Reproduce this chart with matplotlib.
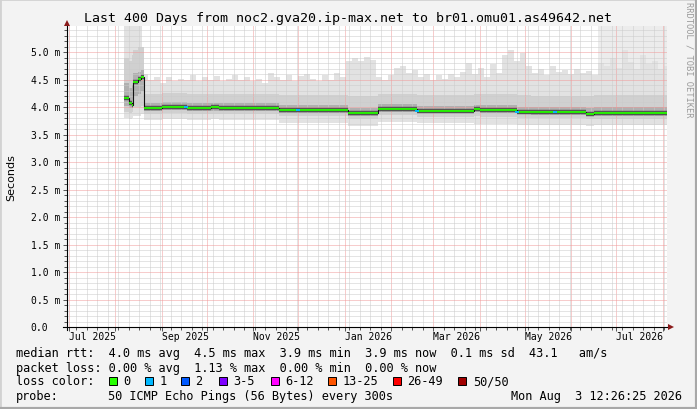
import numpy as np
import pandas as pd
import matplotlib
matplotlib.use("Agg")
import matplotlib.pyplot as plt
import matplotlib.dates as mdates
from matplotlib.patches import Rectangle
from matplotlib.lines import Line2D
from matplotlib.ticker import MultipleLocator
from matplotlib.transforms import blended_transform_factory

# ---------------- data ----------------
t_end = pd.Timestamp('2026-08-03 12:26:25')
t_start = t_end - pd.Timedelta(days=400)

# median RTT steps (ms) and smoke quantiles per step
seg_dates = ['2025-08-07', '2025-08-10', '2025-08-12', '2025-08-13', '2025-08-16',
             '2025-08-18', '2025-08-20', '2025-09-01', '2025-09-18', '2025-10-04',
             '2025-10-09', '2025-10-18', '2025-11-18', '2026-01-03', '2026-01-23',
             '2026-02-18', '2026-03-28', '2026-04-01', '2026-04-26', '2026-05-05',
             '2026-06-11', '2026-06-16']
med_vals = [4.16, 4.07, 4.05, 4.46, 4.52, 4.55, 3.98, 4.01, 3.98, 4.00,
            3.98, 3.99, 3.95, 3.89, 3.97, 3.94, 3.96, 3.95, 3.92, 3.91,
            3.88, 3.90]
lo_vals = [3.80, 3.78, 3.80, 3.84, 3.85, 3.88, 3.77, 3.78, 3.77, 3.78,
           3.77, 3.77, 3.72, 3.66, 3.74, 3.71, 3.70, 3.70, 3.68, 3.67,
           3.66, 3.67]
p10_vals = [3.92, 3.90, 3.92, 4.00, 4.00, 4.02, 3.87, 3.89, 3.87, 3.88,
            3.87, 3.88, 3.84, 3.78, 3.86, 3.83, 3.84, 3.83, 3.81, 3.80,
            3.78, 3.79]
p25_vals = [4.03, 3.98, 3.99, 4.20, 4.25, 4.30, 3.93, 3.95, 3.93, 3.94,
            3.93, 3.94, 3.90, 3.84, 3.92, 3.89, 3.91, 3.90, 3.87, 3.86,
            3.84, 3.85]
p75_vals = [4.45, 4.35, 4.40, 4.62, 4.65, 4.68, 4.07, 4.09, 4.07, 4.08,
            4.07, 4.08, 4.04, 3.99, 4.06, 4.03, 4.05, 4.04, 4.01, 4.00,
            3.98, 4.00]
p90_vals = [4.90, 4.85, 4.95, 5.05, 5.10, 5.10, 4.24, 4.26, 4.24, 4.25,
            4.24, 4.25, 4.22, 4.20, 4.24, 4.22, 4.24, 4.24, 4.22, 4.21,
            4.20, 4.22]

# max RTT, 4-day steps from 2025-08-07
hi_start = '2025-08-07'
hi_vals = [5.48, 5.48, 5.48,
           4.60, 4.50, 4.55, 4.45, 4.55, 4.48, 4.52, 4.50, 4.58, 4.47,
           4.55, 4.50, 4.57, 4.48, 4.52, 4.58, 4.49, 4.55, 4.47, 4.52,
           4.45, 4.62, 4.55, 4.50, 4.58, 4.47, 4.56, 4.60, 4.52, 4.48,
           4.58, 4.50, 4.62, 4.55, 4.85, 4.90, 4.84, 4.92, 4.86, 4.55,
           4.50, 4.58, 4.72, 4.75, 4.62, 4.68, 4.55, 4.60, 4.50, 4.58,
           4.52, 4.60, 4.55, 4.65, 4.80, 4.60, 4.72, 4.55, 4.78, 4.62,
           4.95, 5.05, 4.85, 4.98, 4.75, 4.62, 4.70, 4.58, 4.75, 4.65,
           4.68, 4.60, 4.70, 4.62, 4.66, 4.58, 4.80, 4.75, 4.90, 4.72,
           5.05, 4.82, 4.70, 4.95, 4.78, 4.85, 4.70, 4.75]

# period where the smoke reaches the top of the graph
haze_dates = ['2026-06-19']
haze_top = [5.48]

# days with 1 lost ping
loss1_dates = ['2025-09-17', '2025-12-01', '2026-02-18', '2026-04-26', '2026-05-21']

ytick_vals = [0.0, 0.5, 1.0, 1.5, 2.0, 2.5, 3.0, 3.5, 4.0, 4.5, 5.0]
ytick_text = ['0.0', '0.5 m', '1.0 m', '1.5 m', '2.0 m', '2.5 m', '3.0 m',
              '3.5 m', '4.0 m', '4.5 m', '5.0 m']
xlabel_dates = ['2025-07-01', '2025-09-01', '2025-11-01', '2026-01-01',
                '2026-03-01', '2026-05-01', '2026-07-01']
xlabel_text = ['Jul 2025', 'Sep 2025', 'Nov 2025', 'Jan 2026', 'Mar 2026',
               'May 2026', 'Jul 2026']

title = 'Last 400 Days from noc2.gva20.ip-max.net to br01.omu01.as49642.net'
line_rtt = 'median rtt:  4.0 ms avg  4.5 ms max  3.9 ms min  3.9 ms now  0.1 ms sd  43.1   am/s'
line_loss = 'packet loss: 0.00 % avg  1.13 % max  0.00 % min  0.00 % now'
loss_labels = ['0', '1', '2', '3-5', '6-12', '13-25', '26-49', '50/50']
loss_colors = ['#26ff00', '#00b8ff', '#0059ff', '#7e00ff', '#ff00ff',
               '#ff5500', '#ff0000', '#a10000']
probe_text = '50 ICMP Echo Pings (56 Bytes) every 300s'
stamp_text = 'Mon Aug  3 12:26:25 2026'

# ---------------- figure ----------------
W, H = 697, 410
fig = plt.figure(figsize=(W / 100, H / 100), dpi=100, facecolor='#f3f3f3')


def fx(px):
    return px / W


def fy(py):
    return 1 - py / H


MONO = 'DejaVu Sans Mono'

ax = fig.add_axes([fx(66.5), fy(328.3), 600 / W, 301.3 / H])
ax.set_facecolor('white')
ax.set_xlim(mdates.date2num(t_start), mdates.date2num(t_end))
ax.set_ylim(0, 5.478)

end_num = mdates.date2num(t_end)
sx = np.append(mdates.date2num(pd.to_datetime(seg_dates)), end_num)


def ext(v):
    return np.append(np.asarray(v, float), v[-1])


hx = np.append(mdates.date2num(pd.date_range(hi_start, periods=len(hi_vals), freq='4D')), end_num)
hz = np.append(mdates.date2num(pd.to_datetime(haze_dates)), end_num)

# smoke layers
ax.fill_between(hz, 4.0, ext(haze_top), step='post', color='#ececec', lw=0, zorder=1)
ax.fill_between(hx, 4.0, ext(hi_vals), step='post', color='#e2e2e2', lw=0, zorder=1.1)
ax.fill_between(sx, ext(lo_vals), ext(p90_vals), step='post', color='#e2e2e2', lw=0, zorder=1.2)
ax.fill_between(sx, ext(p10_vals), ext(p90_vals), step='post', color='#d0d0d0', lw=0, zorder=1.3)
ax.fill_between(sx, ext(p25_vals), ext(p75_vals), step='post', color='#b0b0b0', lw=0, zorder=1.4)

# grid
ax.xaxis.set_major_locator(mdates.MonthLocator())
ax.xaxis.set_minor_locator(mdates.WeekdayLocator(byweekday=mdates.SU))
ax.yaxis.set_major_locator(MultipleLocator(0.5))
ax.yaxis.set_minor_locator(MultipleLocator(0.1))
ax.set_axisbelow(False)
ax.grid(which='minor', color='#cbcbcb', linestyle=(0, (1, 1)), lw=0.72)
ax.grid(which='major', color='#f09a9a', linestyle=(0, (1, 1)), lw=0.72)
ax.tick_params(which='both', labelbottom=False, labelleft=False, color='#555555',
               width=0.7, direction='out')
ax.tick_params(which='major', length=3)
ax.tick_params(which='minor', length=2)
for s in ax.spines.values():
    s.set_visible(False)

# median line
x0, x1 = sx[:-1], sx[1:]
ax.hlines(med_vals, x0, x1, color='#555555', lw=3.2, zorder=3)
ax.step(sx, ext(med_vals), where='post', color='#111111', lw=0.8, zorder=3.05)
ax.hlines(med_vals, x0, x1, color='#26ff00', lw=1.3, zorder=3.1)
ld = pd.to_datetime(loss1_dates)
idx = np.searchsorted(pd.to_datetime(seg_dates), ld, side='right') - 1
ax.plot(mdates.date2num(ld), np.asarray(med_vals)[idx], ls='none', marker='_',
        ms=2.5, mew=1.4, color='#00b8ff', zorder=3.2)

# axes lines with arrows
fig.add_artist(Line2D([fx(66.5), fx(66.5)], [fy(331), fy(25)], color='black', lw=0.8))
fig.add_artist(Line2D([fx(63), fx(669)], [fy(328.3), fy(328.3)], color='black', lw=0.8))
fig.add_artist(Line2D([fx(66.5)], [fy(24)], marker='^', ms=4.5, color='#8b1a1a', mew=0))
fig.add_artist(Line2D([fx(671)], [fy(328.3)], marker='>', ms=4.5, color='#8b1a1a', mew=0))

# tick labels
ytr = blended_transform_factory(fig.transFigure, ax.transData)
for v, t in zip(ytick_vals, ytick_text):
    ax.text(fx(30.7), v, t, transform=ytr, ha='left', va='center',
            family=MONO, fontsize=7, clip_on=False)
xtr = blended_transform_factory(ax.transData, fig.transFigure)
for d, t in zip(xlabel_dates, xlabel_text):
    ax.text(mdates.date2num(pd.Timestamp(d)), fy(337.5), t, transform=xtr,
            ha='left', va='center', family=MONO, fontsize=7, clip_on=False)

# texts
fig.text(fx(348.5), fy(18.5), title, ha='center', va='center', family=MONO, fontsize=9.5)
fig.text(fx(11), fy(177.5), 'Seconds', rotation=90, ha='center', va='center',
         family='DejaVu Sans', fontsize=8)
fig.text(fx(688.5), fy(60), 'RRDTOOL / TOBI OETIKER', rotation=270, ha='center',
         va='center', family=MONO, fontsize=6.3, color='#9a9a9a')

LF = 8.6
fig.text(fx(16), fy(354), line_rtt, ha='left', va='center', family=MONO, fontsize=LF)
fig.text(fx(16), fy(368.3), line_loss, ha='left', va='center', family=MONO, fontsize=LF)
fig.text(fx(16), fy(382), 'loss color:', ha='left', va='center', family=MONO, fontsize=LF)
fig.text(fx(16), fy(396.3), 'probe:', ha='left', va='center', family=MONO, fontsize=LF)
fig.text(fx(107.7), fy(396.3), probe_text, ha='left', va='center', family=MONO, fontsize=LF)
fig.text(fx(682), fy(396.3), stamp_text, ha='right', va='center', family=MONO, fontsize=LF)

text_px = [123, 159.5, 195.5, 233.5, 285, 342.7, 407.3, 472.7]
for tx, lab, col in zip(text_px, loss_labels, loss_colors):
    fig.add_artist(Rectangle((fx(tx - 14.5), fy(385.5)), 8 / W, 8 / H,
                             facecolor=col, edgecolor='black', lw=0.7,
                             transform=fig.transFigure))
    fig.text(fx(tx), fy(382), lab, ha='left', va='center', family=MONO, fontsize=LF)

# image border
fig.add_artist(Line2D([0, 0, 1], [0, 1, 1], transform=fig.transFigure,
                      color='#d2d2d2', lw=2))
fig.add_artist(Line2D([0, 1, 1], [0, 0, 1], transform=fig.transFigure,
                      color='#a8a8a8', lw=3))

fig.savefig('out.png', dpi=100, facecolor=fig.get_facecolor())
